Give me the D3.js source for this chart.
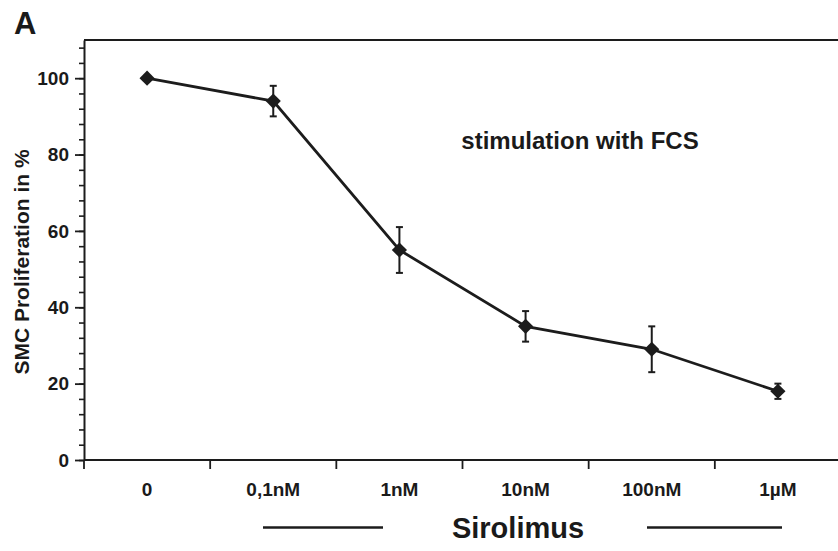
<!DOCTYPE html>
<html>
<head>
<meta charset="utf-8">
<script src="https://cdn.jsdelivr.net/npm/d3@7"></script>
<style>
  body { margin: 0; background: #fff; }
  svg text { font-family: "Liberation Sans", Arial, sans-serif; font-weight: bold; fill: #1a1a1a; }
</style>
</head>
<body>
<svg id="chart" width="838" height="551"></svg>
<script>
// Sample data
const categories = ["0", "0,1nM", "1nM", "10nM", "100nM", "1\u00b5M"];
const proliferation = [100, 94, 55, 35, 29, 18];
const errors = [0, 4, 6, 4, 6, 2];
const yMajorTicks = [0, 20, 40, 60, 80, 100];

const ink = "#1c1c1c";
const svg = d3.select("#chart");

const x = d3.scaleBand().domain(categories).range([84, 841]).padding(0);
const y = d3.scaleLinear().domain([0, 110]).range([460, 40]);

// frame: top line
svg.append("line")
    .attr("x1", 84).attr("x2", 838)
    .attr("y1", y(110)).attr("y2", y(110))
    .attr("stroke", ink).attr("stroke-width", 2);

// y axis, minor ticks every 4
const yMinor = svg.append("g").attr("transform", "translate(84,0)")
    .call(d3.axisLeft(y).tickValues(d3.range(0, 110, 4)).tickSize(5).tickFormat(""));
yMinor.select(".domain").remove();
yMinor.selectAll("line").attr("stroke", ink).attr("stroke-width", 1.6);

const yAxis = svg.append("g").attr("transform", "translate(84,0)")
    .call(d3.axisLeft(y).tickValues(yMajorTicks).tickSize(9).tickSizeOuter(0).tickPadding(6));
yAxis.select(".domain").attr("stroke", ink).attr("stroke-width", 2);
yAxis.selectAll("line").attr("stroke", ink).attr("stroke-width", 1.8);
yAxis.selectAll("text").style("font-size", "19px").attr("fill", ink);

// x axis: labels at band centres, ticks at band edges
const xAxis = svg.append("g").attr("transform", "translate(0,460)")
    .call(d3.axisBottom(x).tickSize(0).tickPadding(23));
xAxis.select(".domain").remove();
xAxis.selectAll("text").style("font-size", "19px").attr("fill", ink);

svg.append("line")
    .attr("x1", 84).attr("x2", 838).attr("y1", 460).attr("y2", 460)
    .attr("stroke", ink).attr("stroke-width", 2);

svg.append("g").selectAll("line")
    .data(categories)
    .join("line")
    .attr("x1", d => x(d)).attr("x2", d => x(d))
    .attr("y1", 460).attr("y2", 469)
    .attr("stroke", ink).attr("stroke-width", 1.8);

// series line
const pts = categories.map((c, i) => ({ c, v: proliferation[i], e: errors[i] }));
svg.append("path")
    .datum(pts)
    .attr("d", d3.line().x(d => x(d.c) + x.bandwidth() / 2).y(d => y(d.v)))
    .attr("fill", "none").attr("stroke", ink).attr("stroke-width", 2.8);

// error bars
const eb = svg.append("g").selectAll("g")
    .data(pts.filter(d => d.e > 0))
    .join("g")
    .attr("transform", d => `translate(${x(d.c) + x.bandwidth() / 2},0)`);
eb.append("line")
    .attr("y1", d => y(d.v + d.e)).attr("y2", d => y(d.v - d.e))
    .attr("stroke", ink).attr("stroke-width", 2);
eb.append("line")
    .attr("x1", -3.5).attr("x2", 3.5)
    .attr("y1", d => y(d.v + d.e)).attr("y2", d => y(d.v + d.e))
    .attr("stroke", ink).attr("stroke-width", 2);
eb.append("line")
    .attr("x1", -3.5).attr("x2", 3.5)
    .attr("y1", d => y(d.v - d.e)).attr("y2", d => y(d.v - d.e))
    .attr("stroke", ink).attr("stroke-width", 2);

// diamond markers
svg.append("g").selectAll("path")
    .data(pts)
    .join("path")
    .attr("d", d3.symbol(d3.symbolSquare, 115))
    .attr("transform", d => `translate(${x(d.c) + x.bandwidth() / 2},${y(d.v)}) rotate(45)`)
    .attr("fill", ink);

// texts
svg.append("text").attr("x", 14).attr("y", 34).style("font-size", "31px").text("A");

svg.append("text")
    .attr("transform", "translate(29,262) rotate(-90)")
    .attr("text-anchor", "middle")
    .style("font-size", "21px")
    .text("SMC Proliferation in %");

svg.append("text")
    .attr("x", 580).attr("y", 149)
    .attr("text-anchor", "middle")
    .style("font-size", "24px")
    .text("stimulation with FCS");

svg.append("text")
    .attr("x", 518).attr("y", 538)
    .attr("text-anchor", "middle")
    .style("font-size", "29px")
    .text("Sirolimus");

svg.append("line").attr("x1", 263).attr("x2", 383).attr("y1", 527.5).attr("y2", 527.5)
    .attr("stroke", ink).attr("stroke-width", 2.5);
svg.append("line").attr("x1", 647).attr("x2", 782).attr("y1", 527.5).attr("y2", 527.5)
    .attr("stroke", ink).attr("stroke-width", 2.5);
</script>
</body>
</html>
